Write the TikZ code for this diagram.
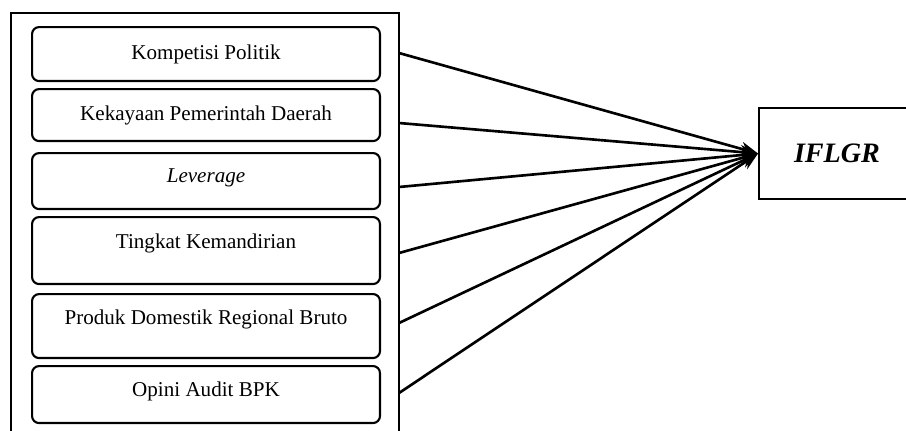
\documentclass[tikz,border=0pt]{standalone}
\usepackage{fontspec}
\setmainfont{Liberation Serif}
\usetikzlibrary{positioning,arrows.meta,calc}

\begin{document}
\begin{tikzpicture}[x=0.02cm, y=-0.02cm, every node/.style={font=\fontsize{12}{14}\selectfont}]
  \tikzset{
    framebox/.style={draw, line width=0.9pt, inner sep=0pt, outer sep=0pt, anchor=north west},
    varbox/.style={draw, line width=1.2pt, rounded corners=4pt, anchor=north west,
      minimum width=6.96cm, inner sep=0pt, text height=9.5pt, align=center},
    depbox/.style={draw, line width=1.1pt, anchor=west, minimum width=3.12cm,
      minimum height=1.82cm, font=\fontsize{16}{19}\selectfont\bfseries\itshape},
    link/.style={line width=1.5pt, -{Stealth[length=10pt, width=8pt]}}
  }
  \useasboundingbox (0,0) rectangle (906,430);
  \clip (0,0) rectangle (906,430);

  % outer frame round the variables
  \node[framebox, minimum width=7.76cm, minimum height=8.8cm] (frame) at (11,13) {};

  % dependent variable
  \node[depbox] (iflgr) at (758,153.5) {IFLGR};

  % independent variables
  \foreach \i/\ytop/\hgt/\dep/\ly/\txt in {
      1/26/1.08/3/53/Kompetisi Politik,
      2/88/1.04/3/123/Kekayaan Pemerintah Daerah,
      3/152/1.12/7.5/187/\textit{Leverage},
      4/216/1.34/11.5/253/Tingkat Kemandirian,
      5/293/1.28/11/323/Produk Domestik Regional Bruto,
      6/365/1.14/7/393/Opini Audit BPK} {
    \node[varbox, minimum height=\hgt cm, text depth=\dep pt] (b\i) at (31,\ytop) {\txt};
    \coordinate (s\i) at (399,\ly);
    \draw[link] (s\i) -- (iflgr.west);
  }
\end{tikzpicture}
\end{document}
